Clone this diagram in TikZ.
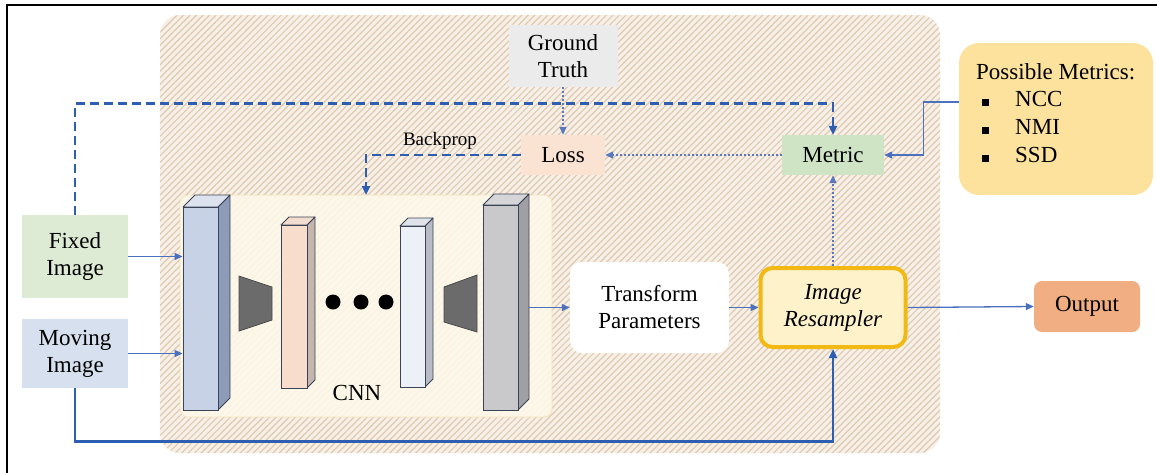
\documentclass[tikz,border=0pt]{standalone}
\usepackage{fontspec}
\setmainfont{LiberationSerif}[Extension=.ttf, UprightFont=*-Regular, ItalicFont=*-Italic, BoldFont=*-Bold, BoldItalicFont=*-BoldItalic]
\usetikzlibrary{arrows.meta,patterns.meta,calc}
\definecolor{hatchbase}{HTML}{F7F0E8}
\definecolor{hatchline}{HTML}{E0C9AE}
\definecolor{cnnfill}{HTML}{FDF8EA}
\definecolor{cnnedge}{HTML}{F3E4B8}
\definecolor{edge}{HTML}{3B4456}
\definecolor{darkblue}{HTML}{2E5EB2}
\definecolor{lineblue}{HTML}{4A70BE}
\definecolor{dotblue}{HTML}{5A78BC}
\definecolor{fixedfill}{HTML}{DDEBD5}
\definecolor{movingfill}{HTML}{D6E0EF}
\definecolor{gtfill}{HTML}{EBEBEB}
\definecolor{lossfill}{HTML}{FBE3D3}
\definecolor{metricfill}{HTML}{CFE4C4}
\definecolor{pmfill}{HTML}{FCE29C}
\definecolor{resfill}{HTML}{FDF2CA}
\definecolor{resedge}{HTML}{F2B915}
\definecolor{outfill}{HTML}{F1AE82}
\definecolor{trapfill}{HTML}{6B6B6B}
\definecolor{trapedge}{HTML}{4A4A4A}
\definecolor{bAf}{HTML}{C8D2E6}\definecolor{bAs}{HTML}{8E9BB8}\definecolor{bAt}{HTML}{DCE3EF}
\definecolor{bBf}{HTML}{F8DCCC}\definecolor{bBs}{HTML}{C4B5AE}\definecolor{bBt}{HTML}{F2DBCF}
\definecolor{bCf}{HTML}{EDF0F6}\definecolor{bCs}{HTML}{B9BCC6}\definecolor{bCt}{HTML}{E0E3EA}
\definecolor{bDf}{HTML}{C9C9CB}\definecolor{bDs}{HTML}{A0A0A4}\definecolor{bDt}{HTML}{D6D6D8}
\tikzset{
  box/.style={rectangle, inner sep=0pt, align=center, font=\fontsize{23}{27}\selectfont},
  thinarrow/.style={draw=lineblue, line width=1.3pt, -{Triangle[length=8pt,width=7pt]}},
  thickarrow/.style={draw=darkblue, line width=2.8pt, -{Triangle[length=9pt,width=8pt]}},
  dashedarrow/.style={thickarrow, dash pattern=on 9pt off 5pt},
  dottedarrow/.style={draw=dotblue, line width=1.3pt, dash pattern=on 2pt off 2pt, -{Triangle[length=8pt,width=7pt]}},
  trap/.style={fill=trapfill, draw=trapedge, line width=0.8pt},
}
% name, x1, y1, x2, y2, depth, front, side, top
\newcommand\cuboid[9]{%
  \fill[#8, draw=edge, line width=0.9pt, line join=round] (#4,#3) -- ++(#6,-#6) -- (#4+#6,#5-#6) -- (#4,#5) -- cycle;
  \fill[#9, draw=edge, line width=0.9pt, line join=round] (#2,#3) -- ++(#6,-#6) -- (#4+#6,#3-#6) -- (#4,#3) -- cycle;
  \node[draw=edge, fill=#7, line width=0.9pt, inner sep=0pt, minimum width={(#4-#2)*1pt}, minimum height={(#5-#3)*1pt}] (#1) at ({(#2+#4)/2},{(#3+#5)/2}) {};
}
\begin{document}
\begin{tikzpicture}[x=1pt,y=-1pt]
\useasboundingbox (0,0) rectangle (1157,472);
% outer frame
\draw[black, line width=1.3pt] (7,480) -- (7,5) -- (1165,5);
% hatched background
\path[preaction={fill=hatchbase}, pattern={Lines[angle=45,distance=4.6pt,line width=1.2pt]}, pattern color=hatchline, rounded corners=20pt] (160,15) rectangle (940,453);
% CNN box
\node[draw=cnnedge, fill=cnnfill, fill opacity=0.9, line width=0.8pt, rounded corners=8pt, minimum width=372pt, minimum height=222pt, inner sep=0pt] (cnn) at (366,306) {};
\node[box] (cnnlabel) at (357,393) {CNN};
% layers
\cuboid{b1}{183}{207}{218}{410}{12}{bAf}{bAs}{bAt}
\cuboid{b2}{281}{225}{307}{388}{8}{bBf}{bBs}{bBt}
\cuboid{b3}{400}{226}{425}{387}{8}{bCf}{bCs}{bCt}
\cuboid{b4}{483}{205}{518}{410}{11}{bDf}{bDs}{bDt}
\path[trap] (239,276) -- (272,287) -- (272,320) -- (239,331) -- cycle;
\path[trap] (444,287) -- (477,275) -- (477,332) -- (444,322) -- cycle;
\fill (333,302) circle (7.5pt) (361,302) circle (7.5pt) (386,302) circle (7.5pt);
% nodes
\node[box, fill=fixedfill, minimum width=106pt, minimum height=83pt] (fixed) at (75,256.5) {Fixed\\Image};
\node[box, fill=movingfill, minimum width=106pt, minimum height=69pt] (moving) at (75,353.5) {Moving\\Image};
\node[box, fill=gtfill, minimum width=109pt, minimum height=62pt] (gt) at (563,56) {Ground\\Truth};
\node[box, fill=lossfill, minimum width=84pt, minimum height=40pt] (loss) at (563,155) {Loss};
\node[box, fill=metricfill, minimum width=102pt, minimum height=40pt] (metric) at (833,155) {Metric};
\node[box, fill=white, rounded corners=12pt, minimum width=159pt, minimum height=91pt] (tp) at (649.5,307.5) {Transform\\Parameters};
\node[box, fill=resfill, draw=resedge, line width=4pt, rounded corners=12pt, minimum width=145pt, minimum height=79pt, font=\fontsize{23}{27}\selectfont\itshape] (res) at (833,307.5) {Image\\Resampler};
\node[box, fill=outfill, rounded corners=8pt, minimum width=106pt, minimum height=51pt] (out) at (1087,306.5) {Output};
\node[box, fill=pmfill, rounded corners=20pt, minimum width=194pt, minimum height=152pt] (pm) at (1056,119) {};
\node[box, anchor=base west] (pmt) at (976,79) {Possible Metrics:};
\node[box, anchor=base west] (pm1) at (982,106) {\rule{7pt}{7pt}\hspace{26pt}NCC};
\node[box, anchor=base west] (pm2) at (982,134) {\rule{7pt}{7pt}\hspace{26pt}NMI};
\node[box, anchor=base west] (pm3) at (982,162) {\rule{7pt}{7pt}\hspace{26pt}SSD};
\node[box, font=\fontsize{19}{22}\selectfont] (bplabel) at (440,141) {Backprop};
\coordinate (bpend) at (366,195);
% connectors
\draw[thinarrow] (fixed.east) -- (fixed.east -| b1.west);
\draw[thinarrow] (moving.east) -- (moving.east -| b1.west);
\draw[thickarrow] (moving.south) -- ++(0,53) -| (res.south);
\draw[dashedarrow] (fixed.north) -- ++(0,-111) -| (metric.north);
\draw[dashedarrow] (loss.west) -| (bpend);
\draw[dottedarrow] (gt.south) -- (loss.north);
\draw[dottedarrow] (metric.west) -- (loss.east);
\draw[dottedarrow] (res.north) -- (metric.south);
\draw[thinarrow] ([yshift=17pt]pm.west) -- ++(-35,0) |- (metric.east);
\draw[thinarrow] ([xshift=11pt]b4.east) -- (tp.west);
\draw[thinarrow] (tp.east) -- (res.west);
\draw[thinarrow] (res.east) -- (out.west);
\end{tikzpicture}
\end{document}
